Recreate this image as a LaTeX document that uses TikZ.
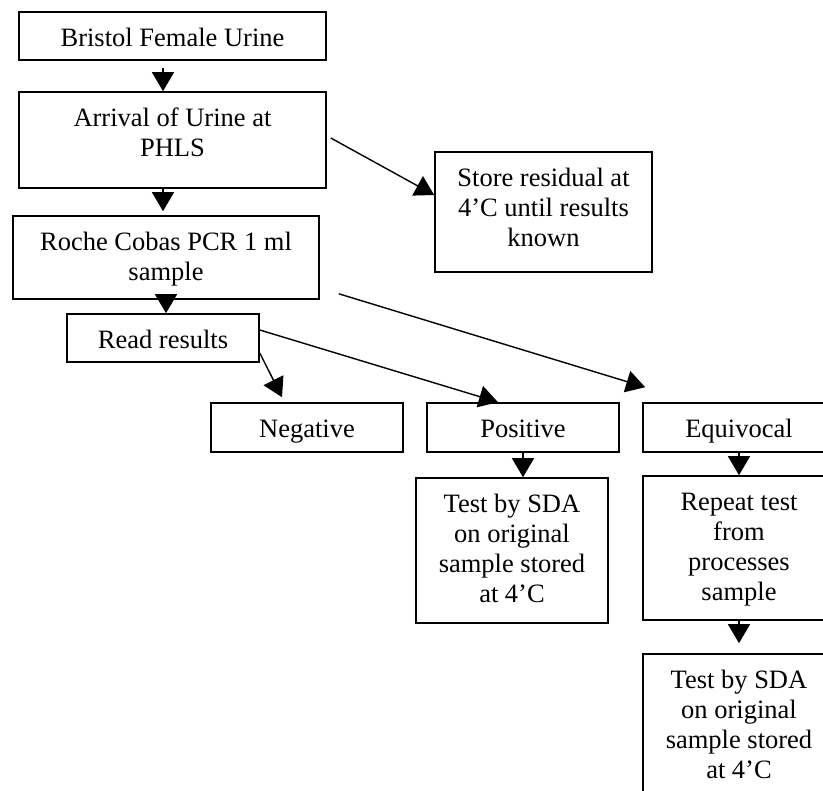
\documentclass[tikz,border=0pt]{standalone}
\usepackage{fontspec}
\setmainfont{Liberation Serif}
\usetikzlibrary{arrows.meta}
\begin{document}
\begin{tikzpicture}[x=1pt,y=-1pt,
  % box: text width = box width; first baseline sits 34.5pt below the top edge
  box/.style 2 args={draw, line width=1.6pt, rectangle, inner sep=0pt, align=flush center,
    text width=#1, text height=34.5pt, text depth=#2,
    font=\fontsize{26.5}{30}\selectfont},
  arr/.style={line width=1.4pt, -{Triangle[width=22pt,length=19pt]}}]
\useasboundingbox (0,0) rectangle (823,791);
\clip (0,0) rectangle (823,791);
% main column
\node[box={307pt}{13.5pt}] (bristol) at (172.5,36) {Bristol Female Urine};
\node[box={307pt}{61.5pt}] (arrival) at (172.5,140) {Arrival of Urine at\\PHLS};
\node[box={306pt}{48.5pt}] (roche) at (166,257.5) {Roche Cobas PCR 1 ml\\sample};
\node[box={192pt}{13.5pt}] (read) at (163,338) {Read results};
% storage side box
\node[box={217pt}{85.5pt}] (store) at (543.5,212) {Store residual at\\4’C until results\\known};
% result boxes
\node[box={192pt}{14.5pt}] (negative) at (307,427.5) {Negative};
\node[box={192pt}{14.5pt}] (positive) at (523,427.5) {Positive};
\node[box={192pt}{14.5pt}] (equivocal) at (739,427.5) {Equivocal};
% follow-up boxes
\node[box={192pt}{110.5pt}] (testpos) at (512,550.5) {Test by SDA\\on original\\sample stored\\at 4’C};
\node[box={192pt}{109.5pt}] (repeat) at (739,548) {Repeat test\\from\\processes\\sample};
\node[box={192pt}{110.5pt}] (testeq) at (739,726.5) {Test by SDA\\on original\\sample stored\\at 4’C};
% connectors
\draw[arr] ([xshift=-9.5pt,yshift=-7pt]bristol.south) -- ([xshift=-9.5pt]arrival.north);
\draw[arr] ([xshift=-9.5pt]arrival.south) -- ([xshift=-3pt,yshift=4pt]roche.north);
\draw[arr] ([yshift=6pt]roche.south) -- ([xshift=3pt]read.north);
\draw[arr] ([xshift=4pt,yshift=2pt]arrival.east) -- ([yshift=17pt]store.west);
\draw[arr] ([yshift=-15pt]read.east) -- ([xshift=-25pt,yshift=5pt]negative.north);
\draw[arr] ([yshift=8pt]read.east) -- ([xshift=-25pt]positive.north);
\draw[arr] ([xshift=19pt,yshift=6pt]roche.south east) -- ([xshift=3pt,yshift=15pt]equivocal.north west);
\draw[arr] (positive.south) -- ([xshift=11pt]testpos.north);
\draw[arr] (equivocal.south) -- (repeat.north);
\draw[arr] (repeat.south) -- ([yshift=10pt]testeq.north);
\end{tikzpicture}
\end{document}
